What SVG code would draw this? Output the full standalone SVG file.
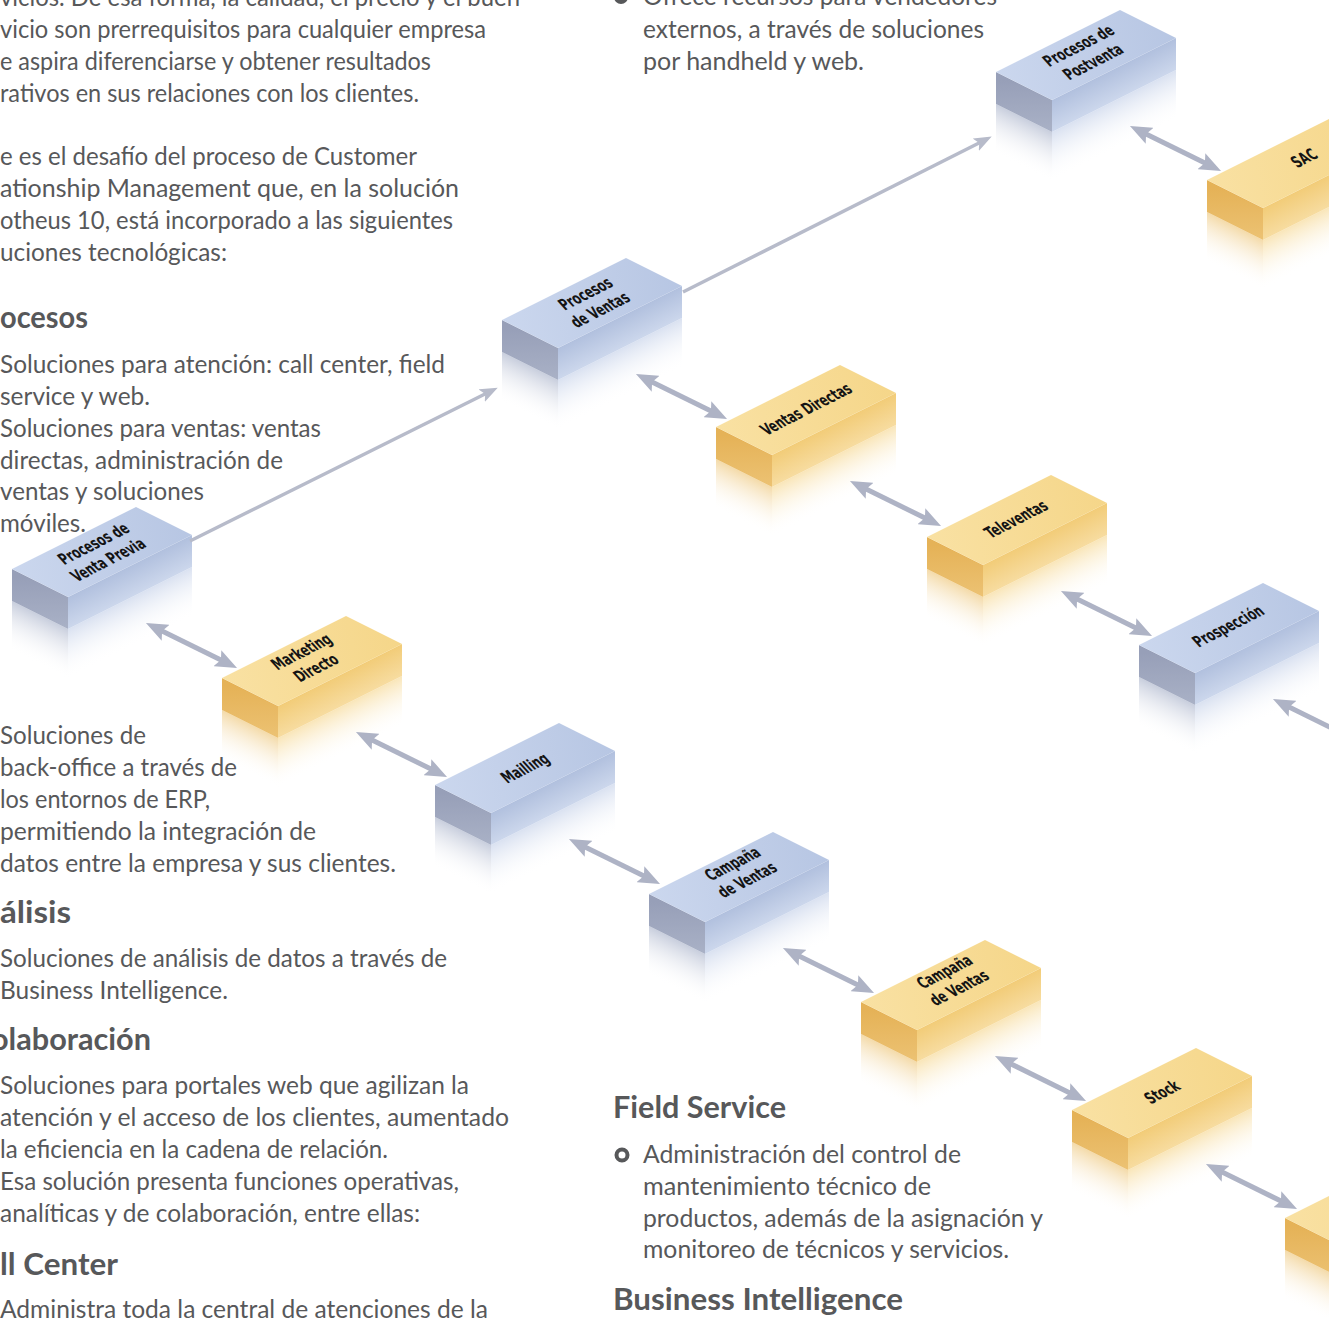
<svg xmlns="http://www.w3.org/2000/svg" xmlns:xlink="http://www.w3.org/1999/xlink" width="1329" height="1318" viewBox="0 0 1329 1318">
<style>
.t{font-family:Lato,"Open Sans","Liberation Sans",sans-serif;font-size:25px;fill:#57585a}
.h{font-family:Lato,"Open Sans","Liberation Sans",sans-serif;font-size:30px;font-weight:bold;fill:#57585a}
.lbl{font-family:"DejaVu Sans Condensed","DejaVu Sans",sans-serif;font-size:17px;font-weight:bold;fill:#141414;text-anchor:middle}
.dbl{stroke:#aeb3c5;stroke-width:5;fill:none;marker-start:url(#ah);marker-end:url(#ah)}
.lng{stroke:#b7bbca;stroke-width:3.5;fill:none;marker-end:url(#ah2)}
</style>
<defs>
<linearGradient id="bT" gradientUnits="userSpaceOnUse" x1="-56" y1="-28" x2="124" y2="-62"><stop offset="0" stop-color="#cbd7ee"/><stop offset="1" stop-color="#b7c6e3"/></linearGradient>
<linearGradient id="bL" gradientUnits="userSpaceOnUse" x1="0" y1="-20" x2="0" y2="32"><stop offset="0" stop-color="#979fb8"/><stop offset="1" stop-color="#a9b1c6"/></linearGradient>
<linearGradient id="bF" gradientUnits="userSpaceOnUse" x1="0" y1="0" x2="0" y2="32" gradientTransform="skewY(-26.565)"><stop offset="0" stop-color="#b1c0de"/><stop offset="1" stop-color="#ccd7ec"/></linearGradient>
<linearGradient id="rbL" gradientUnits="userSpaceOnUse" x1="0" y1="32" x2="0" y2="82" gradientTransform="skewY(26.565)"><stop offset="0" stop-color="#b6bed2" stop-opacity="0.75"/><stop offset="1" stop-color="#ffffff" stop-opacity="0"/></linearGradient>
<linearGradient id="rbF" gradientUnits="userSpaceOnUse" x1="0" y1="32" x2="0" y2="82" gradientTransform="skewY(-26.565)"><stop offset="0" stop-color="#d3dcee" stop-opacity="0.85"/><stop offset="1" stop-color="#ffffff" stop-opacity="0"/></linearGradient>
<linearGradient id="yT" gradientUnits="userSpaceOnUse" x1="-56" y1="-28" x2="124" y2="-62"><stop offset="0" stop-color="#f9e1a3"/><stop offset="1" stop-color="#f5d689"/></linearGradient>
<linearGradient id="yL" gradientUnits="userSpaceOnUse" x1="0" y1="-20" x2="0" y2="32"><stop offset="0" stop-color="#e5b257"/><stop offset="1" stop-color="#ecc273"/></linearGradient>
<linearGradient id="yF" gradientUnits="userSpaceOnUse" x1="0" y1="0" x2="0" y2="32" gradientTransform="skewY(-26.565)"><stop offset="0" stop-color="#f2cc78"/><stop offset="1" stop-color="#f7dca0"/></linearGradient>
<linearGradient id="ryL" gradientUnits="userSpaceOnUse" x1="0" y1="32" x2="0" y2="82" gradientTransform="skewY(26.565)"><stop offset="0" stop-color="#efcb85" stop-opacity="0.7"/><stop offset="1" stop-color="#ffffff" stop-opacity="0"/></linearGradient>
<linearGradient id="ryF" gradientUnits="userSpaceOnUse" x1="0" y1="32" x2="0" y2="82" gradientTransform="skewY(-26.565)"><stop offset="0" stop-color="#f8e1ac" stop-opacity="0.85"/><stop offset="1" stop-color="#ffffff" stop-opacity="0"/></linearGradient>
<marker id="ah" viewBox="0 0 22 18" refX="8" refY="9" markerWidth="22" markerHeight="18" markerUnits="userSpaceOnUse" orient="auto-start-reverse"><path d="M0,0 L22,9 L0,18 L4,9 Z" fill="#aeb3c5"/></marker>
<marker id="ah2" viewBox="0 0 18 14" refX="6" refY="7" markerWidth="18" markerHeight="14" markerUnits="userSpaceOnUse" orient="auto"><path d="M0,0 L18,7 L0,14 L4,7 Z" fill="#b7bbca"/></marker>
<g id="blueBox">
<path d="M-56,4 L0,32 L0,82 L-56,54 Z" fill="url(#rbL)"/>
<path d="M0,32 L124,-30 L124,20 L0,82 Z" fill="url(#rbF)"/>
<path d="M-56,-28 L0,0 L0,32 L-56,4 Z" fill="url(#bL)"/>
<path d="M0,0 L124,-62 L124,-30 L0,32 Z" fill="url(#bF)"/>
<path d="M-56,-28 L0,0 L124,-62 L68,-90 Z" fill="url(#bT)"/>
</g>
<g id="yellowBox">
<path d="M-56,4 L0,32 L0,82 L-56,54 Z" fill="url(#ryL)"/>
<path d="M0,32 L124,-30 L124,20 L0,82 Z" fill="url(#ryF)"/>
<path d="M-56,-28 L0,0 L0,32 L-56,4 Z" fill="url(#yL)"/>
<path d="M0,0 L124,-62 L124,-30 L0,32 Z" fill="url(#yF)"/>
<path d="M-56,-28 L0,0 L124,-62 L68,-90 Z" fill="url(#yT)"/>
</g>
</defs>
<rect width="1329" height="1318" fill="#ffffff"/>

<g id="nodes">
<g id="n-previa"><use xlink:href="#blueBox" transform="translate(68,597)"/><text class="lbl" transform="translate(101,552) rotate(-27) skewX(15) scale(0.72,1)"><tspan x="0" y="-5">Procesos de</tspan><tspan x="0" y="16">Venta Previa</tspan></text></g>
<g id="n-procventas"><use xlink:href="#blueBox" transform="translate(558,348)"/><text class="lbl" transform="translate(593,302) rotate(-27) skewX(15) scale(0.72,1)"><tspan x="0" y="-5">Procesos</tspan><tspan x="0" y="16">de Ventas</tspan></text></g>
<g id="n-postventa"><use xlink:href="#blueBox" transform="translate(1052,100)"/><text class="lbl" transform="translate(1086,54) rotate(-27) skewX(15) scale(0.72,1)"><tspan x="0" y="-5">Procesos de</tspan><tspan x="0" y="16">Postventa</tspan></text></g>
<g id="n-sac"><use xlink:href="#yellowBox" transform="translate(1263,208)"/><text class="lbl" transform="translate(1304,158) rotate(-27) skewX(15) scale(0.72,1)"><tspan x="0" y="6">SAC</tspan></text></g>
<g id="n-ventasdir"><use xlink:href="#yellowBox" transform="translate(772,455)"/><text class="lbl" transform="translate(806,409) rotate(-27) skewX(15) scale(0.72,1)"><tspan x="0" y="6">Ventas Directas</tspan></text></g>
<g id="n-televentas"><use xlink:href="#yellowBox" transform="translate(983,565)"/><text class="lbl" transform="translate(1016,519) rotate(-27) skewX(15) scale(0.72,1)"><tspan x="0" y="6">Televentas</tspan></text></g>
<g id="n-prospeccion"><use xlink:href="#blueBox" transform="translate(1195,673)"/><text class="lbl" transform="translate(1228,626) rotate(-27) skewX(15) scale(0.72,1)"><tspan x="0" y="6">Prospección</tspan></text></g>
<g id="n-marketing"><use xlink:href="#yellowBox" transform="translate(278,706)"/><text class="lbl" transform="translate(309,660) rotate(-27) skewX(15) scale(0.72,1)"><tspan x="0" y="-5">Marketing</tspan><tspan x="0" y="16">Directo</tspan></text></g>
<g id="n-mailling"><use xlink:href="#blueBox" transform="translate(491,813)"/><text class="lbl" transform="translate(525,768) rotate(-27) skewX(15) scale(0.72,1)"><tspan x="0" y="6">Mailling</tspan></text></g>
<g id="n-campana1"><use xlink:href="#blueBox" transform="translate(705,922)"/><text class="lbl" transform="translate(740,872) rotate(-27) skewX(15) scale(0.72,1)"><tspan x="0" y="-5">Campaña</tspan><tspan x="0" y="16">de Ventas</tspan></text></g>
<g id="n-campana2"><use xlink:href="#yellowBox" transform="translate(917,1030)"/><text class="lbl" transform="translate(952,980) rotate(-27) skewX(15) scale(0.72,1)"><tspan x="0" y="-5">Campaña</tspan><tspan x="0" y="16">de Ventas</tspan></text></g>
<g id="n-stock"><use xlink:href="#yellowBox" transform="translate(1128,1138)"/><text class="lbl" transform="translate(1162,1092) rotate(-27) skewX(15) scale(0.72,1)"><tspan x="0" y="6">Stock</tspan></text></g>
<g id="n-partial"><use xlink:href="#yellowBox" transform="translate(1341,1246)"/></g>
</g>

<g id="connectors">
<line class="lng" x1="190" y1="541" x2="487" y2="393"/>
<line class="lng" x1="683" y1="292" x2="981" y2="142"/>
<line class="dbl" x1="158.5" y1="629.2" x2="224.5" y2="661.8"/>
<line class="dbl" x1="368.5" y1="738.2" x2="434.5" y2="770.8"/>
<line class="dbl" x1="581.5" y1="845.2" x2="647.5" y2="877.8"/>
<line class="dbl" x1="795.5" y1="954.2" x2="861.5" y2="986.8"/>
<line class="dbl" x1="1007.5" y1="1062.2" x2="1073.5" y2="1094.8"/>
<line class="dbl" x1="1218.5" y1="1170.2" x2="1284.5" y2="1202.8"/>
<line class="dbl" x1="648.5" y1="380.2" x2="714.5" y2="412.8"/>
<line class="dbl" x1="862.5" y1="487.2" x2="928.5" y2="519.8"/>
<line class="dbl" x1="1073.5" y1="597.2" x2="1139.5" y2="629.8"/>
<line class="dbl" x1="1285.5" y1="705.2" x2="1351.5" y2="737.8"/>
<line class="dbl" x1="1142.5" y1="132.2" x2="1208.5" y2="164.8"/>
</g>

<g id="text-left">
<text class="t" x="0" y="6" textLength="520" lengthAdjust="spacingAndGlyphs">vicios. De esa forma, la calidad, el precio y el buen</text>
<text class="t" x="0" y="38" textLength="486" lengthAdjust="spacingAndGlyphs">vicio son prerrequisitos para cualquier empresa</text>
<text class="t" x="0" y="70" textLength="431" lengthAdjust="spacingAndGlyphs">e aspira diferenciarse y obtener resultados</text>
<text class="t" x="0" y="102" textLength="419" lengthAdjust="spacingAndGlyphs">rativos en sus relaciones con los clientes.</text>
<text class="t" x="0" y="165" textLength="417" lengthAdjust="spacingAndGlyphs">e es el desafío del proceso de Customer</text>
<text class="t" x="0" y="197" textLength="459" lengthAdjust="spacingAndGlyphs">ationship Management que, en la solución</text>
<text class="t" x="0" y="229" textLength="453" lengthAdjust="spacingAndGlyphs">otheus 10, está incorporado a las siguientes</text>
<text class="t" x="0" y="261" textLength="227" lengthAdjust="spacingAndGlyphs">uciones tecnológicas:</text>
<text class="h" x="0" y="328" textLength="88" lengthAdjust="spacingAndGlyphs">ocesos</text>
<text class="t" x="0" y="373" textLength="445" lengthAdjust="spacingAndGlyphs">Soluciones para atención: call center, field</text>
<text class="t" x="0" y="405" textLength="150" lengthAdjust="spacingAndGlyphs">service y web.</text>
<text class="t" x="0" y="437" textLength="321" lengthAdjust="spacingAndGlyphs">Soluciones para ventas: ventas</text>
<text class="t" x="0" y="469" textLength="283" lengthAdjust="spacingAndGlyphs">directas, administración de</text>
<text class="t" x="0" y="500" textLength="204" lengthAdjust="spacingAndGlyphs">ventas y soluciones</text>
<text class="t" x="0" y="532" textLength="86" lengthAdjust="spacingAndGlyphs">móviles.</text>
<text class="t" x="0" y="744" textLength="146" lengthAdjust="spacingAndGlyphs">Soluciones de</text>
<text class="t" x="0" y="776" textLength="237" lengthAdjust="spacingAndGlyphs">back-office a través de</text>
<text class="t" x="0" y="808" textLength="210" lengthAdjust="spacingAndGlyphs">los entornos de ERP,</text>
<text class="t" x="0" y="840" textLength="316" lengthAdjust="spacingAndGlyphs">permitiendo la integración de</text>
<text class="t" x="0" y="872" textLength="396" lengthAdjust="spacingAndGlyphs">datos entre la empresa y sus clientes.</text>
<text class="h" x="0" y="923" textLength="71" lengthAdjust="spacingAndGlyphs">álisis</text>
<text class="t" x="0" y="967" textLength="447" lengthAdjust="spacingAndGlyphs">Soluciones de análisis de datos a través de</text>
<text class="t" x="0" y="999" textLength="228" lengthAdjust="spacingAndGlyphs">Business Intelligence.</text>
<text class="h" x="-9" y="1050" textLength="160" lengthAdjust="spacingAndGlyphs">olaboración</text>
<text class="t" x="0" y="1094" textLength="469" lengthAdjust="spacingAndGlyphs">Soluciones para portales web que agilizan la</text>
<text class="t" x="0" y="1126" textLength="509" lengthAdjust="spacingAndGlyphs">atención y el acceso de los clientes, aumentado</text>
<text class="t" x="0" y="1158" textLength="388" lengthAdjust="spacingAndGlyphs">la eficiencia en la cadena de relación.</text>
<text class="t" x="0" y="1190" textLength="459" lengthAdjust="spacingAndGlyphs">Esa solución presenta funciones operativas,</text>
<text class="t" x="0" y="1222" textLength="420" lengthAdjust="spacingAndGlyphs">analíticas y de colaboración, entre ellas:</text>
<text class="h" x="0" y="1275" textLength="118" lengthAdjust="spacingAndGlyphs">ll Center</text>
<text class="t" x="0" y="1318" textLength="488" lengthAdjust="spacingAndGlyphs">Administra toda la central de atenciones de la</text>
</g>

<g id="text-right">
<circle cx="621" cy="-3" r="7" fill="#57585a"/>
<text class="t" x="643" y="5" textLength="354" lengthAdjust="spacingAndGlyphs">Ofrece recursos para vendedores</text>
<text class="t" x="643" y="38" textLength="341" lengthAdjust="spacingAndGlyphs">externos, a través de soluciones</text>
<text class="t" x="643" y="70" textLength="221" lengthAdjust="spacingAndGlyphs">por handheld y web.</text>
<text class="h" x="613" y="1118" textLength="173" lengthAdjust="spacingAndGlyphs">Field Service</text>
<circle cx="622" cy="1155" r="5.5" fill="none" stroke="#57585a" stroke-width="4"/>
<text class="t" x="643" y="1163" textLength="318" lengthAdjust="spacingAndGlyphs">Administración del control de</text>
<text class="t" x="643" y="1195" textLength="288" lengthAdjust="spacingAndGlyphs">mantenimiento técnico de</text>
<text class="t" x="643" y="1227" textLength="400" lengthAdjust="spacingAndGlyphs">productos, además de la asignación y</text>
<text class="t" x="643" y="1258" textLength="366" lengthAdjust="spacingAndGlyphs">monitoreo de técnicos y servicios.</text>
<text class="h" x="613" y="1310" textLength="290" lengthAdjust="spacingAndGlyphs">Business Intelligence</text>
</g>
</svg>
